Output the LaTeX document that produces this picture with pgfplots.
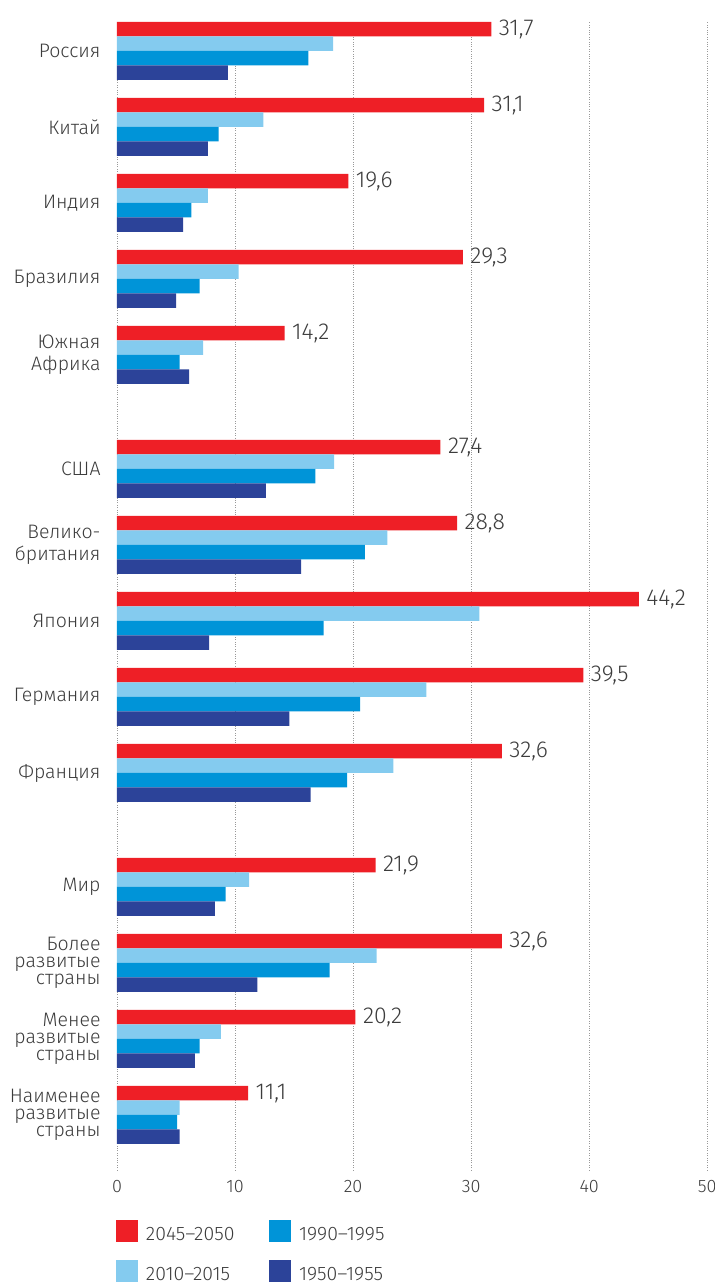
\documentclass[border=0pt]{standalone}
\usepackage{fontspec}
\setmainfont{Fira Sans Light}
\usepackage{pgfplots}
\pgfplotsset{compat=1.18}
\usepackage{pgfplotstable}
\usetikzlibrary{calc}
\definecolor{cRed}{HTML}{EE1F26}
\definecolor{cLight}{HTML}{84CBEF}
\definecolor{cBlue}{HTML}{0094D8}
\definecolor{cDark}{HTML}{2C4399}
\definecolor{cText}{HTML}{3C3C3C}
\pgfplotsset{sqlegend/.style={legend image code/.code={\fill[##1] (0pt,-7.5pt) rectangle (22pt,14.5pt);}}}

\pgfplotstableread{
y x
0 31.7
-1 31.1
-2 19.6
-3 29.3
-4 14.2
-5.5 27.4
-6.5 28.8
-7.5 44.2
-8.5 39.5
-9.5 32.6
-11 21.9
-12 32.6
-13 20.2
-14 11.1
}\tblRed
\pgfplotstableread{
y x
0 18.3
-1 12.4
-2 7.7
-3 10.3
-4 7.3
-5.5 18.4
-6.5 22.9
-7.5 30.7
-8.5 26.2
-9.5 23.4
-11 11.2
-12 22.0
-13 8.8
-14 5.3
}\tblLight
\pgfplotstableread{
y x
0 16.2
-1 8.6
-2 6.3
-3 7.0
-4 5.3
-5.5 16.8
-6.5 21.0
-7.5 17.5
-8.5 20.6
-9.5 19.5
-11 9.2
-12 18.0
-13 7.0
-14 5.1
}\tblBlue
\pgfplotstableread{
y x
0 9.4
-1 7.7
-2 5.6
-3 5.0
-4 6.1
-5.5 12.6
-6.5 15.6
-7.5 7.8
-8.5 14.6
-9.5 16.4
-11 8.3
-12 11.9
-13 6.6
-14 5.3
}\tblDark

\begin{document}
\begin{tikzpicture}
\begin{axis}[
  scale only axis, width=590.3pt, height=1148pt,
  xmin=0, xmax=50, ymin=-14.7237, ymax=0.38158,
  xbar, bar width=14.5pt,
  clip=false,
  axis line style={draw=none},
  major tick style={draw=none},
  /pgf/number format/assume math mode=true,
  xtick={0,10,...,50},
  ytick={0,-1,-2,-3,-4,-5.5,-6.5,-7.5,-8.5,-9.5,-11,-12,-13,-14},
  yticklabels={Россия,Китай,Индия,Бразилия,{Южная\\Африка},США,{Велико-\\британия},Япония,Германия,Франция,Мир,{Более\\[-5pt]развитые\hspace{4pt}\\[-5pt]страны},{Менее\\[-5pt]развитые\hspace{4pt}\\[-5pt]страны},{Наименее\\[-5pt]развитые\hspace{4pt}\\[-5pt]страны}},
  yticklabel style={align=right, font=\fontsize{19.5}{22}\selectfont, text=cText, inner xsep=0pt, xshift=-12pt},
  xticklabel style={font=\fontsize{18}{20}\selectfont, text=cText, inner ysep=0pt, yshift=-10pt},
  xmajorgrids,
  grid style={dotted, color=gray!80, line width=0.6pt},
  legend style={draw=none, fill=none, at={(0,0)}, anchor=north west, xshift=-1pt, yshift=-50pt,
    inner sep=0pt, outer sep=0pt, nodes={inner sep=0pt}, row sep=18pt, column sep=8pt,
    font=\fontsize{19.5}{22}\selectfont, text=cText},
  legend cell align=left,
  legend columns=2, transpose legend,
]
\addplot[fill=cRed, draw=none, bar shift=21.75pt, sqlegend,
  nodes near coords={\pgfmathprintnumber[use comma,fixed,fixed zerofill,precision=1]{\pgfplotspointmeta}},
  point meta=x,
  every node near coord/.append style={anchor=west, xshift=4pt, text=cText, font=\fontsize{23}{25}\selectfont}]
  table[x=x, y=y] {\tblRed};
\addlegendentry{\makebox[115pt][l]{2045–2050}}
\addplot[fill=cLight, draw=none, bar shift=7.25pt, sqlegend]
  table[x=x, y=y] {\tblLight};
\addlegendentry{\makebox[115pt][l]{2010–2015}}
\addplot[fill=cBlue, draw=none, bar shift=-7.25pt, sqlegend]
  table[x=x, y=y] {\tblBlue};
\addlegendentry{1990–1995}
\addplot[fill=cDark, draw=none, bar shift=-21.75pt, sqlegend]
  table[x=x, y=y] {\tblDark};
\addlegendentry{1950–1955}
\coordinate (LL) at (rel axis cs:0,0);
\coordinate (UR) at (rel axis cs:1,1);
\end{axis}
\pgfresetboundingbox
\path[use as bounding box] ($(LL)+(-117pt,-116pt)$) rectangle ($(UR)+(7.7pt,22pt)$);
\end{tikzpicture}
\end{document}
